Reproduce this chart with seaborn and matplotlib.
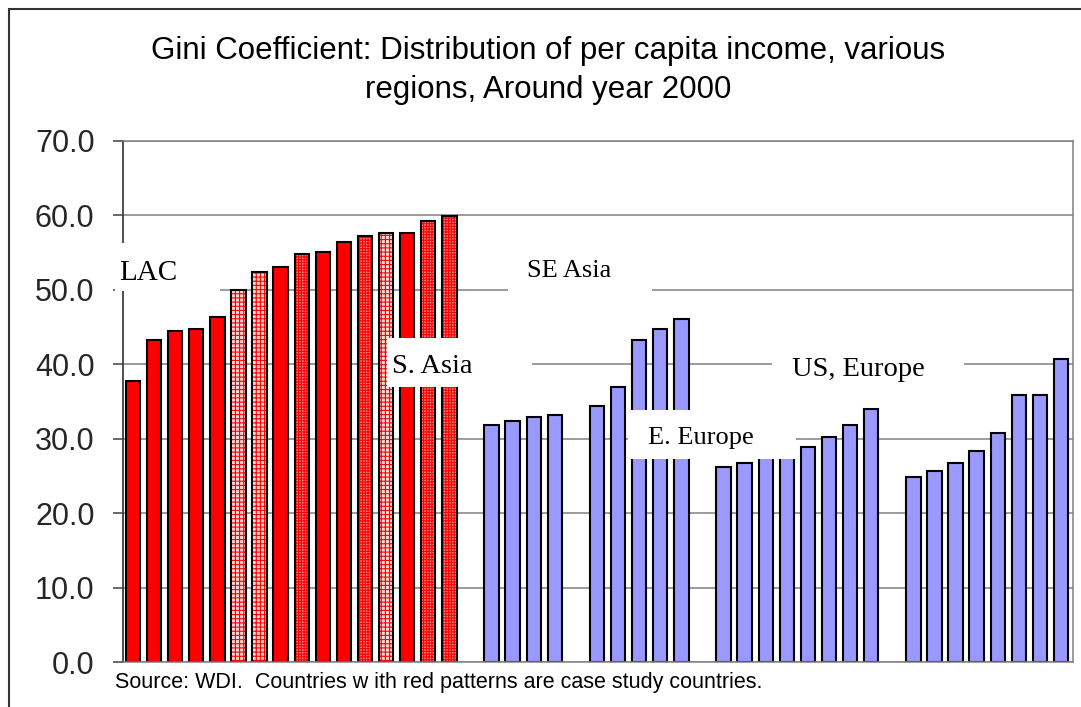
import numpy as np
import pandas as pd
import matplotlib
matplotlib.use("Agg")
import matplotlib.pyplot as plt
import seaborn as sns
from matplotlib.patches import Rectangle
from matplotlib.ticker import StrMethodFormatter

sns.set_style("white")
plt.rcParams["font.family"] = ["Liberation Sans", "DejaVu Sans"]
plt.rcParams["hatch.linewidth"] = 0.8
plt.rcParams["hatch.color"] = "#FF0000"

# ---------------- data ----------------
region_names = ["LAC", "S. Asia", "SE Asia", "E. Europe", "US, Europe"]
lac_values = [37.8, 43.2, 44.5, 44.8, 46.4, 50.0, 52.4, 53.1, 54.8, 55.1,
              56.4, 57.2, 57.7, 57.7, 59.3, 59.9]
lac_patterns = ["solid", "solid", "solid", "solid", "solid", "light", "light",
                "solid", "dense", "solid", "solid", "dense", "light", "solid",
                "dense", "dense"]
s_asia_values = [31.9, 32.4, 32.9, 33.2]
se_asia_values = [34.4, 37.0, 43.2, 44.8, 46.1]
e_europe_values = [26.2, 26.7, 27.8, 28.3, 28.9, 30.2, 31.8, 34.0]
us_europe_values = [24.8, 25.7, 26.7, 28.4, 30.8, 35.9, 35.9, 40.7]
y_ticks = [0, 10, 20, 30, 40, 50, 60, 70]

title_text = ("Gini Coefficient: Distribution of per capita income, various\n"
              "regions, Around year 2000")
source_text = "Source: WDI.  Countries w ith red patterns are case study countries."

# ---------------- table ----------------
groups = [
    ("LAC", lac_values, lac_patterns),
    ("S. Asia", s_asia_values, ["solid"] * len(s_asia_values)),
    ("SE Asia", se_asia_values, ["solid"] * len(se_asia_values)),
    ("E. Europe", e_europe_values, ["solid"] * len(e_europe_values)),
    ("US, Europe", us_europe_values, ["solid"] * len(us_europe_values)),
]
rows, order = [], []
for gi, (name, vals, pats) in enumerate(groups):
    for i, v in enumerate(vals):
        slot = f"{name} {i + 1}"
        order.append(slot)
        rows.append(dict(slot=slot, gini=v, region=name,
                         family="LAC" if name == "LAC" else "Other",
                         pattern=pats[i]))
    if gi < len(groups) - 1:
        order.append(f"gap {gi + 1}")
df = pd.DataFrame(rows)

# ---------------- figure ----------------
fig = plt.figure(figsize=(10.81, 7.07), dpi=100)
ax = fig.add_axes([123 / 1081, 1 - 662 / 707, (1073 - 123) / 1081, (662 - 141) / 707])

sns.barplot(data=df, x="slot", y="gini", hue="family", order=order,
            palette={"LAC": "#FF0000", "Other": "#9999FF"}, dodge=False,
            width=0.68, saturation=1, edgecolor="black", linewidth=1.5,
            errorbar=None, legend=False, ax=ax, zorder=2)

pattern_of = dict(zip(df["slot"], df["pattern"]))
pattern_style = {
    "light": dict(face="#FFD6D6", hatch="++++"),
    "dense": dict(face="#FF8080", hatch="++++++"),
}
for p in list(ax.patches):
    idx = int(round(p.get_x() + p.get_width() / 2))
    if idx < 0 or idx >= len(order):
        continue
    pat = pattern_of.get(order[idx], "solid")
    if pat in pattern_style:
        st = pattern_style[pat]
        p.set_facecolor(st["face"])
        p.set_edgecolor("#FF0000")
        if hasattr(p, "set_hatchcolor"):
            p.set_hatchcolor("#FF0000")
        p.set_hatch(st["hatch"])
        p.set_linewidth(0)
        ax.add_patch(Rectangle((p.get_x(), p.get_y()), p.get_width(), p.get_height(),
                               fill=False, edgecolor="black", linewidth=1.5,
                               zorder=p.get_zorder() + 0.1))

ax.set_xlim(-0.474, 44.57)
ax.set_ylim(0, 70)
ax.set_xlabel("")
ax.set_ylabel("")
ax.set_yticks(y_ticks)
ax.yaxis.set_major_formatter(StrMethodFormatter("{x:.1f}"))
ax.tick_params(axis="x", bottom=False, labelbottom=False)
ax.tick_params(axis="y", left=True, direction="out", length=7.5, width=1.1,
               color="#404040", pad=13, labelsize=22)
ax.grid(axis="y", color="#808080", linewidth=1.1)
ax.grid(axis="x", visible=False)
ax.set_axisbelow(True)
for side in ["top", "right", "bottom"]:
    ax.spines[side].set_visible(True)
    ax.spines[side].set_color("#808080")
    ax.spines[side].set_linewidth(1.1)
ax.spines["left"].set_color("#404040")
ax.spines["left"].set_linewidth(1.3)

# ---------------- region labels with white boxes ----------------
label_specs = [
    # text, box (x0, x1, y0, y1), text position (x, baseline y), size, clip
    ("LAC", (-0.853, 4.125, 49.85, 56.3), (-0.664, 51.3), 21, False),
    ("S. Asia", (12.04, 18.92, 36.95, 43.53), (12.28, 38.83), 20.5, False),
    ("SE Asia", (17.78, 24.61, 49.85, 56.0), (18.68, 51.72), 19, False),
    ("E. Europe", (23.47, 31.44, 27.27, 33.86), (24.42, 29.29), 19, False),
    ("US, Europe", (30.30, 39.40, 38.29, 42.6), (31.25, 38.43), 20.5, True),
]
for text, (x0, x1, y0, y1), (tx, ty), size, clip in label_specs:
    box = Rectangle((x0, y0), x1 - x0, y1 - y0, facecolor="white",
                    edgecolor="none", zorder=5, clip_on=False)
    ax.add_patch(box)
    t = ax.text(tx, ty, text, family=["Liberation Serif", "DejaVu Serif"],
                fontsize=size, ha="left", va="baseline", zorder=6, color="black")
    if clip:
        t.set_clip_path(box)

# ---------------- title, source, frame ----------------
fig.text(548 / 1081, 1 - 36 / 707, title_text, ha="center", va="top",
         fontsize=22.5, linespacing=1.38, color="black")
fig.text(115 / 1081, 1 - 688 / 707, source_text, ha="left", va="baseline",
         fontsize=15.5, color="black")
fig.add_artist(Rectangle((9 / 1081, -0.05), 1.2, (1 - 9 / 707) + 0.05,
                         transform=fig.transFigure, fill=False,
                         edgecolor="#333333", linewidth=1.5))

fig.savefig("out.png", dpi=100)
